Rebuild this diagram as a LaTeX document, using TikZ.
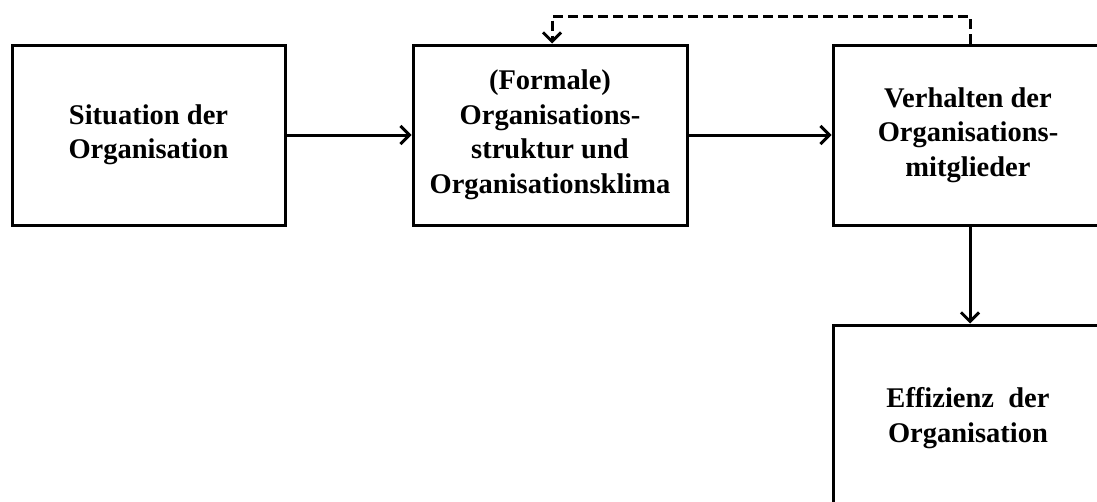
\documentclass[tikz,border=0pt]{standalone}
\usepackage{fontspec}
\setmainfont{Liberation Serif}
\usetikzlibrary{arrows.meta}
\begin{document}
\begin{tikzpicture}[x=1pt,y=-1pt,
  blockbox/.style={draw, line width=3pt, rectangle, inner sep=0pt,
    align=center, font=\fontsize{28.5}{34.5}\selectfont\bfseries},
  link/.style={line width=3pt, -{Straight Barb[length=9pt,width=18pt,line width=3pt]}},
  feedback/.style={link, dash pattern=on 10pt off 5pt}]
  \clip (0,0) rectangle (1097,501);
  \fill[white] (0,0) rectangle (1097,501);

  \node[blockbox, minimum width=273pt, minimum height=180pt] (b1) at (148.5,135)
    {Situation der\\Organisation};
  \node[blockbox, minimum width=274pt, minimum height=180pt] (b2) at (550,135)
    {(Formale)\\Organisations-\\struktur und\\Organisationsklima};
  \node[blockbox, minimum width=270pt, minimum height=180pt] (b3) at (968,135)
    {Verhalten der\\Organisations-\\mitglieder};
  \node[blockbox, minimum width=270pt, minimum height=186pt] (b4) at (968,418)
    {Effizienz\ \ der\\Organisation};

  \coordinate (fbtop) at (552,16);

  \draw[link] (b1.east) -- (b2.west);
  \draw[link] (b2.east) -- (b3.west);
  \draw[link] ([xshift=2pt]b3.south) -- ([xshift=2pt]b4.north);
  \draw[feedback] ([xshift=2pt]b3.north) |- (fbtop) -- (fbtop |- b2.north);
\end{tikzpicture}
\end{document}
